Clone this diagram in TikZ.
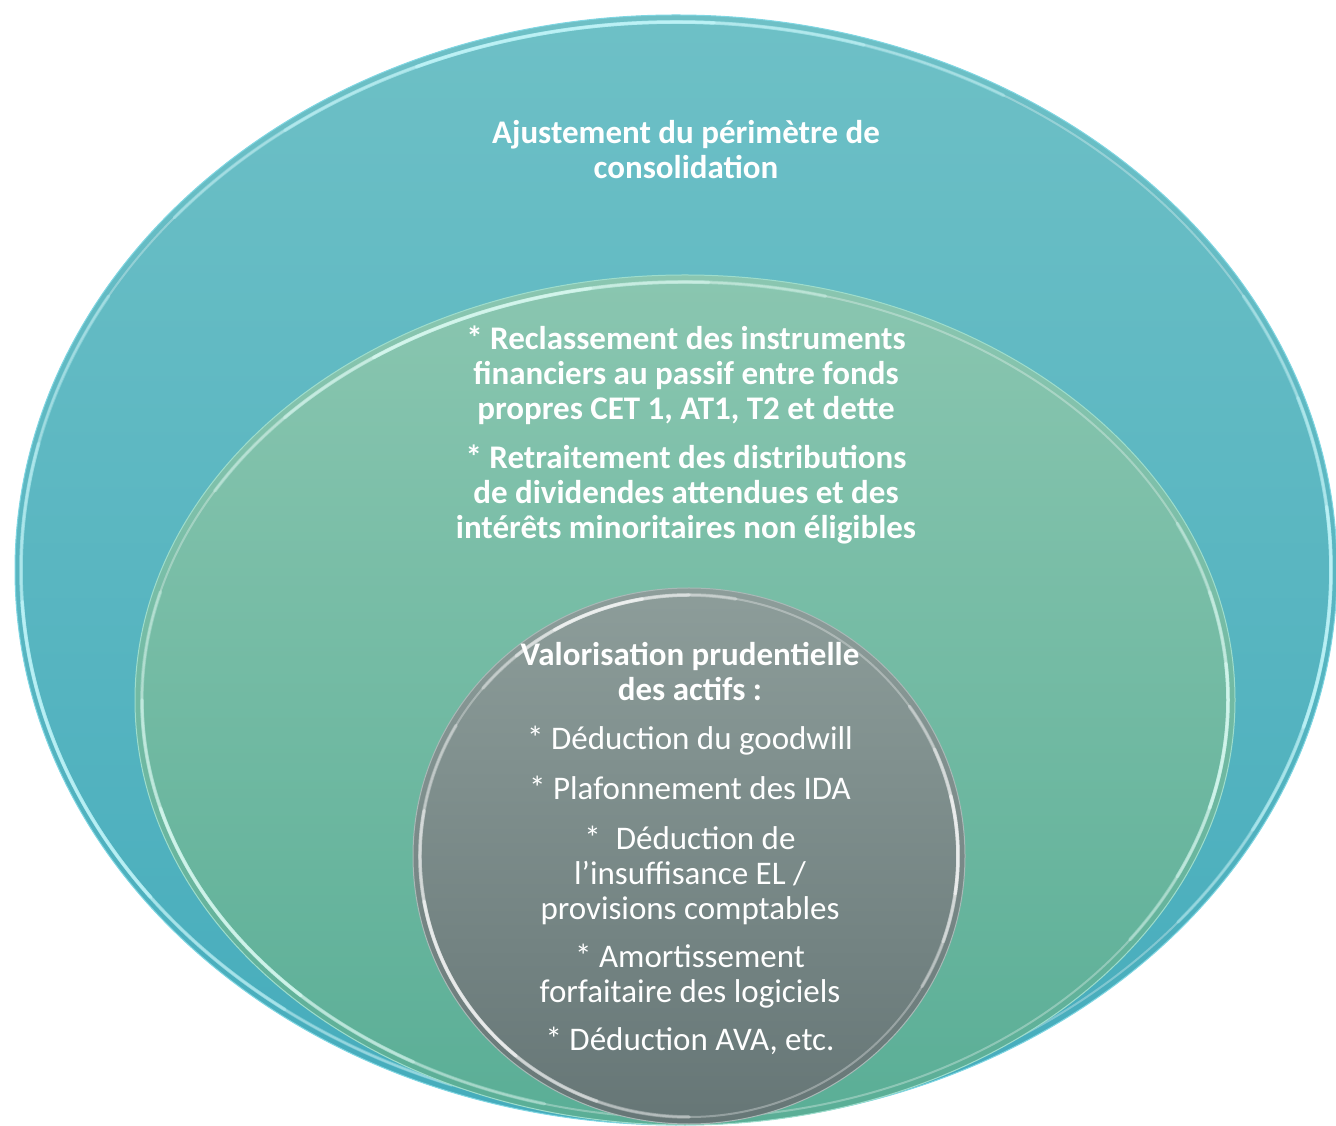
\documentclass[tikz,border=0pt]{standalone}
\usepackage{fontspec}
\setmainfont{Carlito}
\usetikzlibrary{shapes.geometric}
\definecolor{outerTop}{HTML}{6EC0C6}
\definecolor{outerBot}{HTML}{45ACBC}
\definecolor{outerEdge}{HTML}{7FD6E2}
\definecolor{outerGlow}{HTML}{C8FBFF}
\definecolor{midTop}{HTML}{8AC6B0}
\definecolor{midBot}{HTML}{5AAE96}
\definecolor{midEdge}{HTML}{9EDDCC}
\definecolor{midGlow}{HTML}{E0FFF8}
\definecolor{inTop}{HTML}{8D9D9A}
\definecolor{inBot}{HTML}{667676}
\definecolor{inEdge}{HTML}{A9B9B7}
% soft highlight arc: node, x radius, y radius, start angle, end angle, colour
\newcommand{\myglowarc}[6]{%
  \pgfmathsetmacro{\myA}{#4}\pgfmathsetmacro{\myB}{#5}%
  \pgfmathsetmacro{\myD}{(\myB-\myA)/6}%
  \foreach \k/\op in {0/0.3,1/0.35,2/0.5}{%
    \pgfmathsetmacro{\mySa}{\myA+\k*\myD}\pgfmathsetmacro{\mySe}{\myB-\k*\myD}%
    \draw[glow, draw=#6, draw opacity=\op] (#1.center) ++(\mySa:#2 and #3)
      arc[start angle=\mySa, end angle=\mySe, x radius=#2, y radius=#3];}%
}
\begin{document}
\begin{tikzpicture}[x=1pt,y=1pt]
\tikzset{
  ring/.style={ellipse, inner sep=0pt, line width=1pt},
  rim/.style={draw=white, draw opacity=0.3, line width=2pt},
  glow/.style={line width=3.5pt, line cap=round},
  lbl/.style={text=white, align=center, inner sep=0pt, font=\fontsize{33}{35}\selectfont},
  lblb/.style={lbl, font=\bfseries\fontsize{33}{35}\selectfont},
}
\useasboundingbox (0,0) rectangle (1336,1125);
% outer ellipse
\node[ring, minimum width=1322pt, minimum height=1110pt, top color=outerTop, bottom color=outerBot, draw=outerEdge] (outer) at (676,555) {};
\draw[rim] (outer.center) ellipse [x radius=655, y radius=548];
\myglowarc{outer}{655}{548}{150}{250}{outerGlow}
\myglowarc{outer}{655}{548}{60}{140}{outerGlow}
\myglowarc{outer}{655}{548}{-40}{30}{outerGlow}
% middle ellipse
\node[ring, minimum width=1100pt, minimum height=850pt, top color=midTop, bottom color=midBot, draw=midEdge] (middle) at (685,425) {};
\draw[rim] (middle.center) ellipse [x radius=543, y radius=418];
\myglowarc{middle}{543}{418}{165}{255}{midGlow}
\myglowarc{middle}{543}{418}{75}{150}{midGlow}
\myglowarc{middle}{543}{418}{-35}{25}{midGlow}
% inner circle
\node[ring, minimum width=552pt, minimum height=536pt, top color=inTop, bottom color=inBot, draw=inEdge] (inner) at (689,269) {};
\draw[rim] (inner.center) ellipse [x radius=269, y radius=261];
\myglowarc{inner}{269}{261}{150}{270}{white}
\myglowarc{inner}{269}{261}{80}{140}{white}
\myglowarc{inner}{269}{261}{-30}{35}{white}
% texts
\node[lblb] (title) at (686,975) {Ajustement du périmètre de\\consolidation};
\node[lblb] (reclass) at (686,750) {* Reclassement des instruments\\financiers au passif entre fonds\\propres CET 1, AT1, T2 et dette};
\node[lblb] (retrait) at (686,631) {* Retraitement des distributions\\de dividendes attendues et des\\intérêts minoritaires non éligibles};
\node[lblb] (valor) at (690,453) {Valorisation prudentielle\\des actifs :};
\node[lbl] (goodwill) at (690,384) {* Déduction du goodwill};
\node[lbl] (ida) at (690,337) {* Plafonnement des IDA};
\node[lbl] (insuff) at (690,250) {*\ \ Déduction de\\l’insuffisance EL /\\provisions comptables};
\node[lbl] (amort) at (690,149) {* Amortissement\\forfaitaire des logiciels};
\node[lbl] (ava) at (690,84) {* Déduction AVA, etc.};
\end{tikzpicture}
\end{document}
